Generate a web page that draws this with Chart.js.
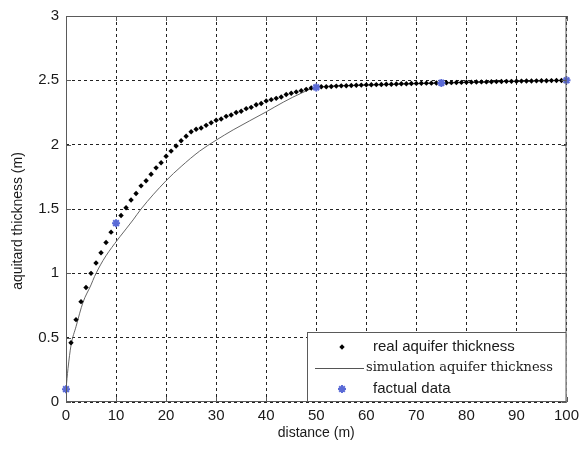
<!DOCTYPE html>
<html>
<head>
<meta charset="utf-8">
<script src="https://cdn.jsdelivr.net/npm/chart.js@4.4.1/dist/chart.umd.min.js"></script>
<style>
  html, body { margin: 0; padding: 0; background: #fff; }
  #wrap { width: 585px; height: 458px; position: relative; }
</style>
</head>
<body>
<div id="wrap"><canvas id="chart"></canvas></div>
<script>
// real aquifer thickness (black dots)
const realX = [0, 1, 2, 3, 4, 5, 6, 7, 8, 9, 10,
  11, 12, 13, 14, 15, 16, 17, 18, 19, 20,
  21, 22, 23, 24, 25, 26, 27, 28, 29, 30,
  31, 32, 33, 34, 35, 36, 37, 38, 39, 40,
  41, 42, 43, 44, 45, 46, 47, 48, 49, 50,
  51, 52, 53, 54, 55, 56, 57, 58, 59, 60,
  61, 62, 63, 64, 65, 66, 67, 68, 69, 70,
  71, 72, 73, 74, 75, 76, 77, 78, 79, 80,
  81, 82, 83, 84, 85, 86, 87, 88, 89, 90,
  91, 92, 93, 94, 95, 96, 97, 98, 99, 100];
const realY = [0.1, 0.46, 0.64, 0.78, 0.89, 1.00, 1.08, 1.16, 1.24, 1.32, 1.39,
  1.45, 1.51, 1.57, 1.62, 1.68, 1.72, 1.77, 1.82, 1.86, 1.91,
  1.95, 1.99, 2.03, 2.065, 2.10, 2.12, 2.13, 2.15, 2.17, 2.19,
  2.20, 2.22, 2.23, 2.25, 2.26, 2.28, 2.29, 2.31, 2.32, 2.34,
  2.35, 2.36, 2.37, 2.39, 2.40, 2.41, 2.42, 2.43, 2.44, 2.445,
  2.45, 2.45, 2.452, 2.455, 2.457, 2.458, 2.46, 2.462, 2.463, 2.465,
  2.466, 2.467, 2.468, 2.47, 2.47, 2.472, 2.473, 2.474, 2.475, 2.476,
  2.477, 2.478, 2.478, 2.479, 2.48, 2.481, 2.482, 2.483, 2.484, 2.485,
  2.486, 2.487, 2.488, 2.488, 2.489, 2.49, 2.491, 2.492, 2.492, 2.493,
  2.494, 2.495, 2.495, 2.496, 2.497, 2.497, 2.498, 2.499, 2.499, 2.5];

// simulation aquifer thickness (grey line)
const simX = [0, 0.4, 1, 2, 3.4, 5, 5.7, 7.4, 9.7, 12, 13.4, 15, 20, 23, 26.7, 30, 33.4, 40, 43.4, 47, 50, 60, 75, 100];
const simY = [0.1, 0.26, 0.44, 0.585, 0.775, 0.91, 0.975, 1.10, 1.23, 1.345, 1.415, 1.50, 1.72, 1.83, 1.95, 2.035, 2.115, 2.255, 2.33, 2.40, 2.445, 2.462, 2.48, 2.5];

// factual data (blue stars)
const factX = [0, 10, 50, 75, 100];
const factY = [0.1, 1.39, 2.445, 2.48, 2.5];

const xTicks = [0, 100, 10];
const yTicks = [0, 3, 0.5];

const legendLabels = ['real aquifer thickness', 'simulation aquifer thickness', 'factual data'];

const starColor = '#5a6ad6';
const frameColor = '#5a5a5a';

function pts(xs, ys) {
  return xs.map((x, i) => ({ x: x, y: ys[i] }));
}

const framePlugin = {
  id: 'frame',
  afterDatasetsDraw(chart) {
    const { ctx, chartArea: a, scales } = chart;
    ctx.save();
    ctx.strokeStyle = frameColor;
    ctx.lineWidth = 1;
    ctx.setLineDash([]);
    ctx.strokeRect(a.left + 0.5, a.top + 0.5, a.right - a.left - 1, a.bottom - a.top - 1);
    // small inner ticks
    ctx.beginPath();
    scales.x.ticks.forEach((t) => {
      const px = Math.round(scales.x.getPixelForValue(t.value)) + 0.5;
      ctx.moveTo(px, a.bottom); ctx.lineTo(px, a.bottom - 5);
      ctx.moveTo(px, a.top); ctx.lineTo(px, a.top + 5);
    });
    scales.y.ticks.forEach((t) => {
      const py = Math.round(scales.y.getPixelForValue(t.value)) + 0.5;
      ctx.moveTo(a.left, py); ctx.lineTo(a.left + 5, py);
      ctx.moveTo(a.right, py); ctx.lineTo(a.right - 5, py);
    });
    ctx.stroke();
    ctx.restore();
  },
  afterDraw(chart) {
    const { ctx, chartArea: a } = chart;
    ctx.save();
    // y axis title
    ctx.fillStyle = '#1a1a1a';
    ctx.font = '14px "Liberation Sans", Arial, sans-serif';
    ctx.textAlign = 'center';
    ctx.textBaseline = 'middle';
    ctx.translate(18, 221);
    ctx.rotate(-Math.PI / 2);
    ctx.fillText('aquitard thickness (m)', 0, 0);
    ctx.restore();

    // legend box
    ctx.save();
    const bx = 307, by = 332, bw = a.right - 307, bh = a.bottom - 332;
    ctx.fillStyle = '#fff';
    ctx.fillRect(bx, by, bw, bh);
    ctx.strokeStyle = frameColor;
    ctx.lineWidth = 1;
    ctx.strokeRect(bx + 0.5, by + 0.5, bw - 1, bh - 1);

    Chart.helpers.drawPoint(ctx, { pointStyle: 'rectRot', radius: 2.7, borderWidth: 0 }, 342, 347);
    ctx.fillStyle = '#000';
    ctx.fill();

    ctx.strokeStyle = '#555';
    ctx.beginPath();
    ctx.moveTo(315, 368.5); ctx.lineTo(364, 368.5);
    ctx.stroke();

    ctx.strokeStyle = starColor;
    ctx.lineWidth = 2;
    Chart.helpers.drawPoint(ctx, { pointStyle: 'star', radius: 4, borderWidth: 2 }, 342, 389);

    ctx.fillStyle = '#1a1a1a';
    ctx.textAlign = 'left';
    ctx.textBaseline = 'middle';
    ctx.font = '15px "Liberation Sans", Arial, sans-serif';
    ctx.fillText(legendLabels[0], 373, 347);
    ctx.fillText(legendLabels[2], 373, 389);
    ctx.font = '13px "DejaVu Serif", serif';
    ctx.fillText(legendLabels[1], 366, 368);
    ctx.restore();
  }
};

new Chart(document.getElementById('chart'), {
  type: 'scatter',
  data: {
    datasets: [
      {
        label: legendLabels[2],
        data: pts(factX, factY),
        pointStyle: 'star',
        pointRadius: 4,
        pointBorderWidth: 2,
        pointBorderColor: starColor,
        pointBackgroundColor: starColor,
        showLine: false,
        clip: false,
      },
      {
        label: legendLabels[0],
        data: pts(realX, realY),
        pointStyle: 'rectRot',
        pointRadius: 2.7,
        pointBorderWidth: 0,
        pointBackgroundColor: '#000',
        showLine: false,
        clip: false,
      },
      {
        label: legendLabels[1],
        data: pts(simX, simY),
        showLine: true,
        pointRadius: 0,
        borderColor: '#666',
        borderWidth: 1,
        cubicInterpolationMode: 'monotone',
      },
    ],
  },
  options: {
    responsive: true,
    maintainAspectRatio: false,
    animation: false,
    layout: { padding: { top: 7, right: 18.5, left: 0, bottom: 0 } },
    plugins: {
      legend: { display: false },
      tooltip: { enabled: false },
    },
    scales: {
      x: {
        type: 'linear',
        min: xTicks[0],
        max: xTicks[1],
        afterFit: (scale) => { scale.height = 56; },
        ticks: {
          stepSize: xTicks[2],
          padding: 5,
          color: '#1a1a1a',
          font: { family: '"Liberation Sans", Arial, sans-serif', size: 15 },
          maxRotation: 0,
          callback: (v) => String(v),
        },
        grid: { color: '#222', lineWidth: 1, drawTicks: false },
        border: { display: false, dash: [3, 3] },
        title: {
          display: true,
          text: 'distance (m)',
          color: '#1a1a1a',
          font: { family: '"Liberation Sans", Arial, sans-serif', size: 14 },
          padding: { top: 0, bottom: 16 },
        },
      },
      y: {
        type: 'linear',
        min: yTicks[0],
        max: yTicks[1],
        afterFit: (scale) => { scale.width = 66; },
        ticks: {
          stepSize: yTicks[2],
          padding: 7,
          color: '#1a1a1a',
          font: { family: '"Liberation Sans", Arial, sans-serif', size: 15 },
          callback: (v) => String(v),
        },
        grid: { color: '#222', lineWidth: 1, drawTicks: false },
        border: { display: false, dash: [3, 3] },
      },
    },
  },
  plugins: [framePlugin],
});
</script>
</body>
</html>
